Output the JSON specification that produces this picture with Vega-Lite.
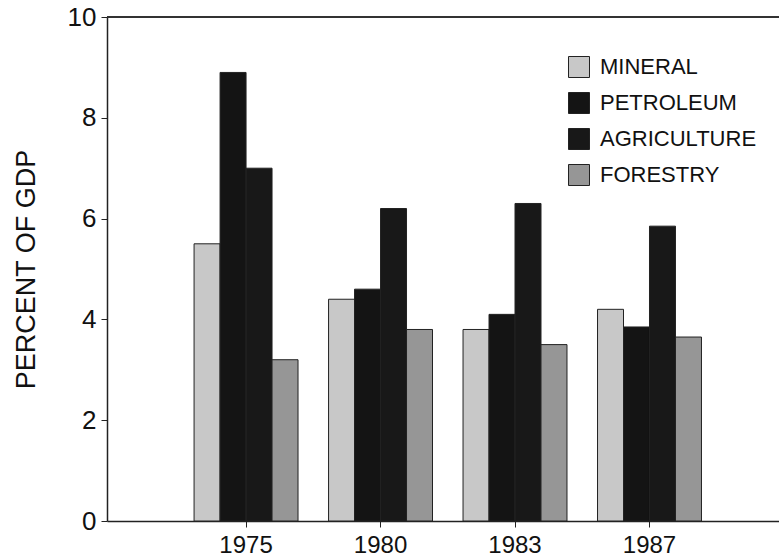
{
  "$schema": "https://vega.github.io/schema/vega-lite/v6.json",
  "width": 672,
  "height": 504,
  "autosize": {"type": "none"},
  "padding": {"left": 107, "top": 17, "right": 0, "bottom": 36},
  "background": "white",
  "config": {
    "view": {"stroke": null},
    "font": "Liberation Sans",
    "axis": {"domainColor": "#222", "tickColor": "#222", "labelColor": "#111", "titleColor": "#111", "grid": false}
  },
  "data": {
    "values": [
      {"year": "1975", "sector": "MINERAL", "pct": 5.5},
      {"year": "1975", "sector": "PETROLEUM", "pct": 8.9},
      {"year": "1975", "sector": "AGRICULTURE", "pct": 7.0},
      {"year": "1975", "sector": "FORESTRY", "pct": 3.2},
      {"year": "1980", "sector": "MINERAL", "pct": 4.4},
      {"year": "1980", "sector": "PETROLEUM", "pct": 4.6},
      {"year": "1980", "sector": "AGRICULTURE", "pct": 6.2},
      {"year": "1980", "sector": "FORESTRY", "pct": 3.8},
      {"year": "1983", "sector": "MINERAL", "pct": 3.8},
      {"year": "1983", "sector": "PETROLEUM", "pct": 4.1},
      {"year": "1983", "sector": "AGRICULTURE", "pct": 6.3},
      {"year": "1983", "sector": "FORESTRY", "pct": 3.5},
      {"year": "1987", "sector": "MINERAL", "pct": 4.2},
      {"year": "1987", "sector": "PETROLEUM", "pct": 3.85},
      {"year": "1987", "sector": "AGRICULTURE", "pct": 5.85},
      {"year": "1987", "sector": "FORESTRY", "pct": 3.65}
    ]
  },
  "layer": [
    {
      "mark": {"type": "bar", "stroke": "#222", "strokeWidth": 1},
      "encoding": {
        "x": {
          "field": "year", "type": "nominal",
          "scale": {"paddingInner": 0.227, "paddingOuter": 0.612, "align": 0.529},
          "axis": {"title": null, "labelAngle": 0, "labelFontSize": 24, "tickSize": 6, "labelPadding": 6, "domainWidth": 1.5}
        },
        "xOffset": {
          "field": "sector", "type": "nominal",
          "scale": {"domain": ["MINERAL", "PETROLEUM", "AGRICULTURE", "FORESTRY"], "paddingInner": 0, "paddingOuter": 0}
        },
        "y": {
          "field": "pct", "type": "quantitative",
          "scale": {"domain": [0, 10], "nice": false},
          "axis": {"title": "PERCENT OF GDP", "values": [0, 2, 4, 6, 8, 10], "labelFontSize": 26, "tickSize": 6, "labelPadding": 5, "titleFontSize": 27, "titleFontWeight": "normal", "titlePadding": 27, "domainWidth": 1.5}
        },
        "color": {
          "field": "sector", "type": "nominal",
          "scale": {"domain": ["MINERAL", "PETROLEUM", "AGRICULTURE", "FORESTRY"], "range": ["#c8c8c8", "#141414", "#181818", "#969696"]},
          "legend": {
            "title": null, "orient": "none", "legendX": 461, "legendY": 39,
            "symbolType": "square", "symbolSize": 441, "symbolStrokeColor": "#222", "symbolStrokeWidth": 1,
            "labelFontSize": 22, "labelColor": "#111", "labelOffset": 10, "rowPadding": 10
          }
        }
      }
    },
    {
      "mark": {"type": "rule", "color": "#333", "strokeWidth": 1.5},
      "encoding": {"y": {"datum": 10}}
    }
  ]
}
